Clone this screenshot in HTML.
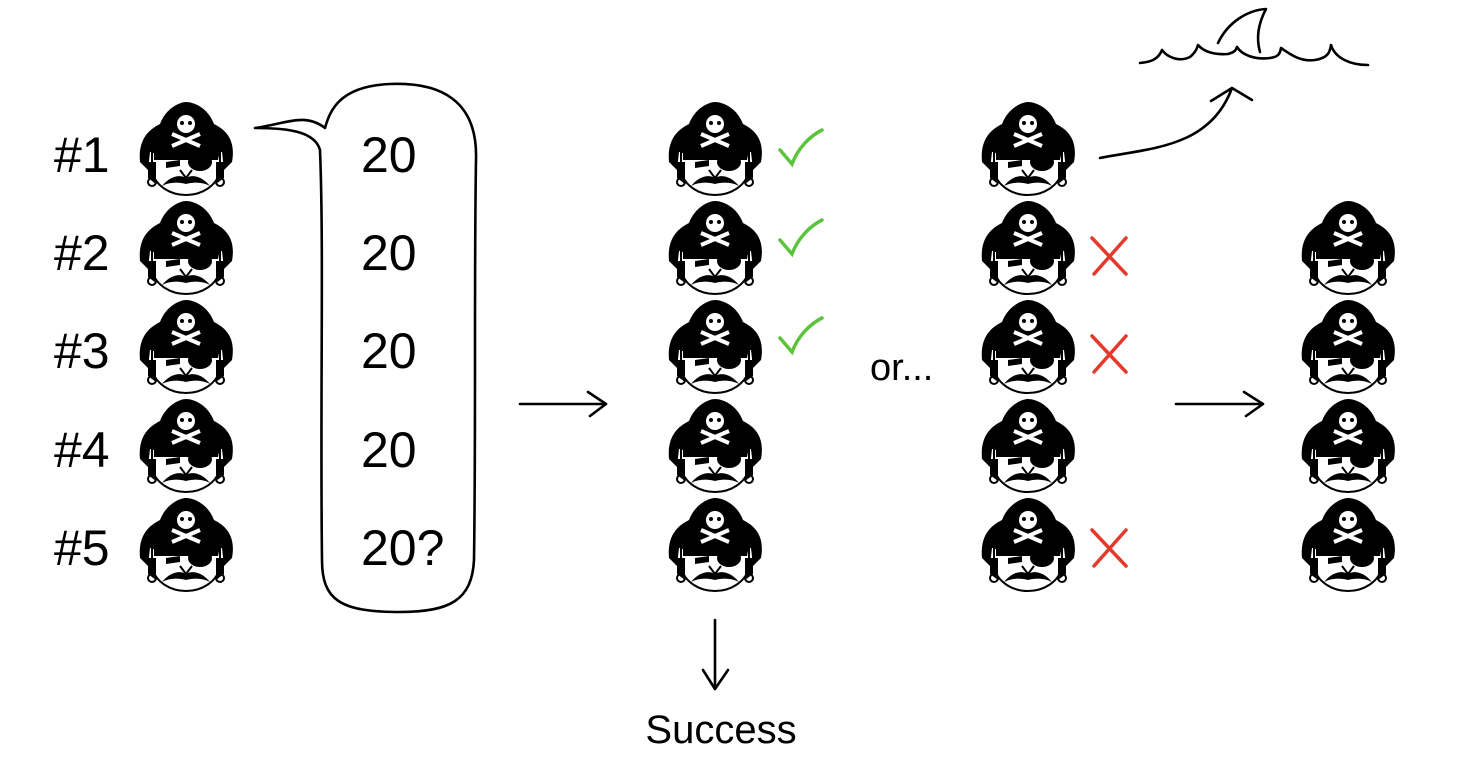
<!DOCTYPE html>
<html><head><style>
body{margin:0;background:#fff;}
svg{display:block;font-family:"Liberation Sans",Arial,sans-serif;}
</style></head><body>
<svg width="1458" height="780" viewBox="0 0 1458 780">
<defs>
<g id="p">
<path d="M4,62 C2,40 12,30 24,24 C30,8 44,2 50,2 C58,2 72,8 78,24 C90,30 100,40 96,62 L88,70 L86,52 L14,52 L12,70 Z" fill="#000"/>
<path d="M16,52 L84,52 L84,72 C80,86 66,95 50,95 C34,95 20,86 16,72 Z" fill="#fff" stroke="#000" stroke-width="2"/>
<path d="M18,52 L84,50 L82,60 L18,60 Z" fill="#000"/>
<ellipse cx="64" cy="62" rx="12" ry="9" fill="#000"/>
<path d="M30,62 L44,60 L44,66 L30,68Z" fill="#000"/>
<path d="M12,62 L20,62 L20,84 L12,78Z" fill="#000"/>
<path d="M88,62 L80,62 L80,84 L88,78Z" fill="#000"/>
<path d="M26,86 C34,76 44,74 50,78 C56,74 66,76 74,86 C66,82 58,82 50,84 C42,82 34,82 26,86Z" fill="#000"/>
<path d="M44,70 L50,78 L56,70" fill="none" stroke="#000" stroke-width="2"/>
<circle cx="16" cy="82" r="4" fill="none" stroke="#000" stroke-width="2"/>
<circle cx="84" cy="82" r="4" fill="none" stroke="#000" stroke-width="2"/>
<circle cx="50" cy="24" r="9" fill="#fff"/>
<path d="M36,34 L64,46 M64,34 L36,46" stroke="#fff" stroke-width="4"/>
<circle cx="46" cy="23" r="2" fill="#000"/><circle cx="54" cy="23" r="2" fill="#000"/>
</g>
<g id="ck"><path d="M0,20 L12,34 C18,18 30,6 42,0" fill="none" stroke="#5cc43c" stroke-width="3.5" stroke-linecap="round"/></g>
<g id="x"><path d="M2,2 L36,38 M36,2 L4,38" fill="none" stroke="#e5392c" stroke-width="3.5" stroke-linecap="round"/></g>
</defs>
<g font-size="50" fill="#000">
<text x="54" y="172">#1</text><text x="54" y="270">#2</text><text x="54" y="368">#3</text><text x="54" y="467">#4</text><text x="54" y="565">#5</text>
<text x="361" y="172">20</text><text x="361" y="270">20</text><text x="361" y="368">20</text><text x="361" y="467">20</text><text x="361" y="565">20?</text>
</g>
<text x="870" y="380" font-size="38">or...</text>
<text x="721" y="743" font-size="40" text-anchor="middle">Success</text>
<g>
<use href="#p" x="136" y="100"/><use href="#p" x="136" y="199"/><use href="#p" x="136" y="298"/><use href="#p" x="136" y="397"/><use href="#p" x="136" y="496"/>
<use href="#p" x="665" y="100"/><use href="#p" x="665" y="199"/><use href="#p" x="665" y="298"/><use href="#p" x="665" y="397"/><use href="#p" x="665" y="496"/>
<use href="#p" x="978" y="100"/><use href="#p" x="978" y="199"/><use href="#p" x="978" y="298"/><use href="#p" x="978" y="397"/><use href="#p" x="978" y="496"/>
<use href="#p" x="1298" y="199"/><use href="#p" x="1298" y="298"/><use href="#p" x="1298" y="397"/><use href="#p" x="1298" y="496"/>
</g>
<use href="#ck" x="780" y="130"/><use href="#ck" x="780" y="220"/><use href="#ck" x="780" y="318"/>
<use href="#x" x="1090" y="236"/><use href="#x" x="1090" y="334"/><use href="#x" x="1090" y="528"/>
<g fill="none" stroke="#000" stroke-width="2.6" stroke-linecap="round" stroke-linejoin="round">
<path d="M255,128 C285,124 305,112 325,128 C330,110 340,86 390,84 C440,82 478,100 476,160 C474,280 476,420 474,560 C472,600 450,612 400,612 C340,612 322,600 322,560 C320,400 324,250 320,150 C315,132 290,128 255,128 Z"/>
<path d="M520,404 L605,404 M588,392 L606,404 L590,416"/>
<path d="M1176,404 L1262,404 M1244,392 L1263,404 L1246,416"/>
<path d="M715,620 L715,688 M703,670 L715,689 L728,670"/>
<path d="M1100,158 C1150,148 1210,148 1232,88 M1211,101 L1232,88 L1252,100"/>
<path d="M1140,63 C1150,62 1158,60 1162,50 C1168,58 1180,62 1190,57 C1196,52 1197,48 1198,45 C1204,52 1215,55 1228,54 C1235,52 1236,50 1237,47 C1242,55 1255,60 1270,58 C1278,57 1280,54 1281,48 C1290,54 1300,62 1315,60 C1328,58 1330,52 1331,45 C1335,58 1350,65 1368,65"/>
<path d="M1218,43 C1228,22 1248,10 1266,9 C1258,24 1256,38 1260,52"/>
</g>
</svg>
</body></html>
